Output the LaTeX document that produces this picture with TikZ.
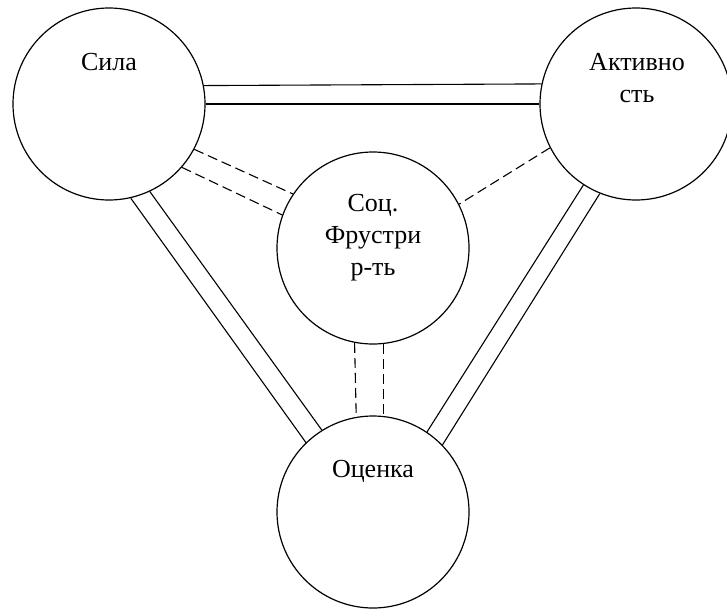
\documentclass[tikz,border=0pt]{standalone}
\usepackage{fontspec}
\setmainfont{Liberation Serif}
\usepackage{tikz}
\usetikzlibrary{positioning,calc}

\begin{document}
\begin{tikzpicture}[
  x=1pt, y=-1pt,
  circ/.style={draw, circle, minimum size=192pt, inner sep=0pt, line width=1.2pt},
  lbl/.style={align=center, font=\fontsize{26}{32}\selectfont},
  dbl/.style={line width=1.1pt},
  dsh/.style={line width=1.1pt, dash pattern=on 10pt off 5pt}
]
  \useasboundingbox (0,0) rectangle (727,610);

  % Circles
  \node[circ] (sila)   at (109,104) {};
  \node[circ] (akt)    at (636,104) {};
  \node[circ] (soc)    at (373,248) {};
  \node[circ] (ocenka) at (373,512) {};

  % Texts
  \node[lbl] (silaT)   at (109,62)  {Сила};
  \node[lbl] (aktT)    at (637,78)  {Активно\\сть};
  \node[lbl] (socT)    at (373,238) {Соц.\\Фрустри\\р-ть};
  \node[lbl] (ocenkaT) at (373,471) {Оценка};

  % Double lines
  \draw[dbl] (sila.11.4) -- (akt.168.6);
  \draw[dbl] (sila.east) -- (akt.west);
  \draw[dbl] (sila.-77.3) -- (ocenka.134.2);
  \draw[dbl] (sila.-65.6) -- (ocenka.122.9);
  \draw[dbl] (akt.237.5) -- (ocenka.56.5);
  \draw[dbl] (akt.248) -- (ocenka.44.6);

  % Dashed lines
  \draw[dsh] (sila.-28.7) -- (soc.146.5);
  \draw[dsh] (sila.-41.2) -- (soc.160.5);
  \draw[dsh] (akt.207.6) -- (soc.27.6);
  \draw[dsh] (soc.259.2) -- (ocenka.100.8);
  \draw[dsh] (soc.-84.6) -- (ocenka.84.6);
\end{tikzpicture}
\end{document}
